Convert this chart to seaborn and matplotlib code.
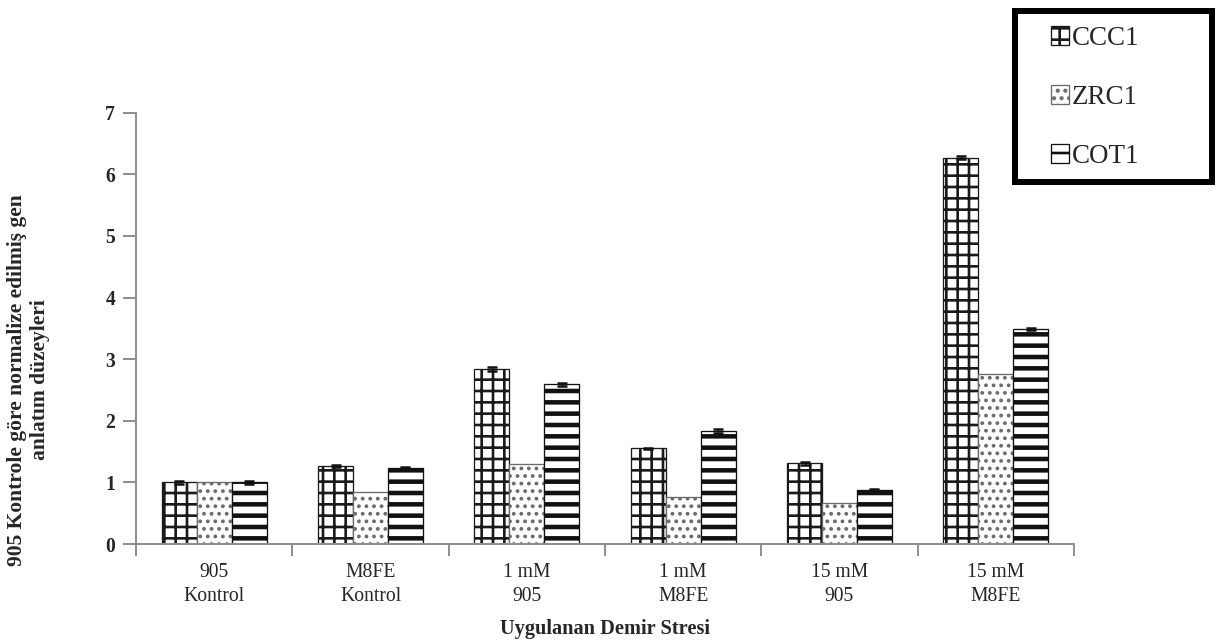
import numpy as np
import pandas as pd
import matplotlib
matplotlib.use("Agg")
import matplotlib.pyplot as plt
from matplotlib.patches import Rectangle
import seaborn as sns

# ---------------- data ----------------
categories = ["905\nKontrol", "M8FE\nKontrol", "1 mM\n905", "1 mM\nM8FE", "15 mM\n905", "15 mM\nM8FE"]
genes = ["CCC1", "ZRC1", "COT1"]
ccc1 = [1.00, 1.27, 2.84, 1.55, 1.31, 6.27]
zrc1 = [1.00, 0.85, 1.30, 0.76, 0.66, 2.76]
cot1 = [1.00, 1.24, 2.59, 1.83, 0.88, 3.49]
ccc1_err = [0.02, 0.02, 0.03, 0.01, 0.02, 0.02]
zrc1_err = [0.00, 0.00, 0.00, 0.00, 0.00, 0.00]
cot1_err = [0.02, 0.01, 0.03, 0.03, 0.01, 0.01]
yticks = [0, 1, 2, 3, 4, 5, 6, 7]
y_label = "905 Kontrole göre normalize edilmiş gen\nanlatım düzeyleri"
x_label = "Uygulanan Demir Stresi"

# ---------------- setup ----------------
DPI = 136
W, H = 1220, 642
PT = 72.0 / DPI  # points per pixel

sns.set_style("white")
plt.rcParams["font.family"] = ["Liberation Serif", "DejaVu Serif"]
plt.rcParams["hatch.linewidth"] = 1.4

rows = []
for g, vals in zip(genes, [ccc1, zrc1, cot1]):
    for c, v in zip(categories, vals):
        rows.append({"cond": c, "gene": g, "value": v})
df = pd.DataFrame(rows)

fig = plt.figure(figsize=(W / DPI, H / DPI), dpi=DPI)
ax = fig.add_axes([136 / W, 1 - 544 / H, (1074 - 136) / W, (544 - 112.7) / H])

sns.barplot(data=df, x="cond", y="value", hue="gene", order=categories,
            hue_order=genes, palette=["white"] * 3, saturation=1,
            width=0.67, errorbar=None, legend=False, ax=ax)

styles = {
    "CCC1": dict(hatch="++", ec="#1a1a1a", hlw=1.4),
    "ZRC1": dict(hatch="...", ec="#6a6a6a", hlw=1.2),
    "COT1": dict(hatch="--", ec="#111111", hlw=2.4),
}
errs = {"CCC1": ccc1_err, "ZRC1": zrc1_err, "COT1": cot1_err}

for g, cont in zip(genes, ax.containers):
    st = styles[g]
    for p in cont:
        p.set_hatch(st["hatch"])
        p.set_edgecolor(st["ec"])
        p.set_linewidth(1.3 * PT)
        if hasattr(p, "set_hatch_linewidth"):
            p.set_hatch_linewidth(st["hlw"])
    e = errs[g]
    if any(v > 0 for v in e):
        xs = [p.get_x() + p.get_width() / 2 for p in cont]
        hs = [p.get_height() for p in cont]
        ax.errorbar(xs, hs, yerr=e, fmt="none", ecolor="#111111",
                    elinewidth=1.2 * PT, capsize=5 * PT, capthick=2.5 * PT, zorder=5)

# ---------------- axes styling ----------------
ax.set_xlim(-0.5, len(categories) - 0.5)
ax.set_ylim(0, 7)
ax.set_yticks(yticks)
ax.set_yticklabels([str(t) for t in yticks], fontweight="bold", fontsize=10.4)
ax.set_xticks(range(len(categories)))
ax.set_xticklabels(categories, fontsize=10.4, linespacing=1.38)
ax.set_xticks(np.arange(-0.5, len(categories), 1.0), minor=True)

spine_c = "#8f8f8f"
for s in ["top", "right"]:
    ax.spines[s].set_visible(False)
for s in ["left", "bottom"]:
    ax.spines[s].set_color(spine_c)
    ax.spines[s].set_linewidth(2 * PT)

ax.tick_params(axis="y", which="major", direction="out", length=13 * PT,
               width=2 * PT, color=spine_c, pad=8 * PT, left=True)
ax.tick_params(axis="x", which="major", length=0, pad=19 * PT, bottom=True)
ax.tick_params(axis="x", which="minor", direction="out", length=12 * PT,
               width=2 * PT, color=spine_c, bottom=True)

ax.set_xlabel(x_label, fontweight="bold", fontsize=10.8, labelpad=13 * PT)
ax.set_ylabel("")

fig.text(28.5 / W, 1 - 380 / H, y_label, rotation=90, ha="center", va="center",
         multialignment="center", fontweight="bold", fontsize=11.4, linespacing=1.15)

# ---------------- legend ----------------
fig.legend(ax.containers, genes, loc="upper left",
           bbox_to_anchor=(1051 / W, 1 - 26 / H), bbox_transform=fig.transFigure,
           frameon=False, fontsize=14.3, borderpad=0, borderaxespad=0,
           handlelength=0.68, handleheight=0.7, handletextpad=0.1,
           labelspacing=1.26)
fig.add_artist(Rectangle((1015 / W, 1 - 182 / H), (1212 - 1015) / W, (182 - 11) / H,
                         transform=fig.transFigure, fill=False,
                         edgecolor="black", linewidth=6 * PT))

fig.savefig("out.png", dpi=DPI)
